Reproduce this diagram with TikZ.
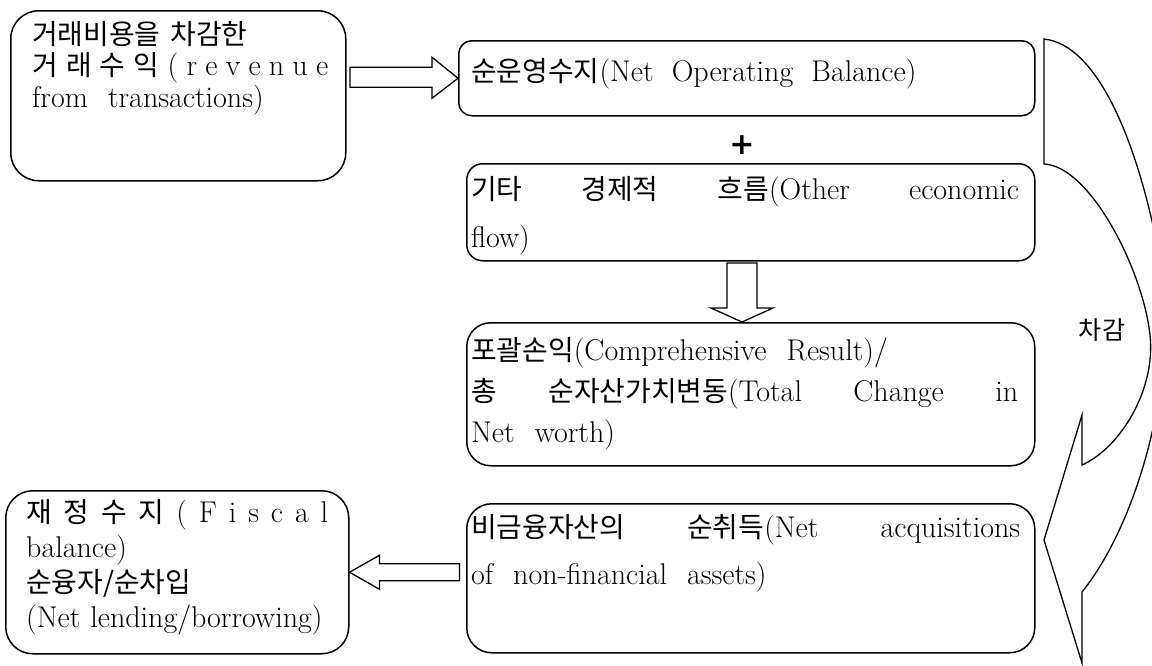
\documentclass[tikz,border=0pt]{standalone}
\usepackage{fontspec}
\newfontfamily\krfont{Noto Sans CJK KR}[Scale=0.93]
\newfontfamily\plusfont{DejaVu Sans}
\newcommand\kor[1]{{\krfont #1}}

\begin{document}
\begin{tikzpicture}[x=1pt, y=-1pt,
	box/.style={draw, line width=1.5pt, rounded corners=#1, anchor=north west, inner sep=0pt},
	txt/.style={anchor=base west, inner sep=0pt, align=left, font={\fontsize{30}{#1}\selectfont}},
	blk/.style={draw, line width=1.3pt, fill=white}]
	\useasboundingbox (0,0) rectangle (1152,665);

	% boxes
	\node[box=28pt, minimum width=335pt, minimum height=170pt]	(rev) at (10,10)	{};
	\node[box=13pt, minimum width=576pt, minimum height=75pt]	(nob) at (458,40)	{};
	\node[box=16pt, minimum width=568pt, minimum height=97pt]	(oef) at (466,163)	{};
	\node[box=24pt, minimum width=568pt, minimum height=143pt]	(cmp) at (466,322)	{};
	\node[box=25pt, minimum width=568pt, minimum height=149pt]	(nan) at (466,503)	{};
	\node[box=27pt, minimum width=343pt, minimum height=163pt]	(fis) at (5,490)	{};

	% texts
	\node[txt=31.5pt, text width=296pt] (revtxt) at (32,44)
		{\kor{거래비용을 차감한}\\
		 \kor{거}\hfill\kor{래}\hfill\kor{수}\hfill\kor{익}\hfill(\hfill r\hfill e\hfill v\hfill e\hfill n\hfill u\hfill e\\
		 \mbox{from \ transactions)}};
	\node[txt=30pt] (nobtxt) at (471,81)
		{\kor{순운영수지}(Net \ Operating \ Balance)};
	\node[txt=48pt, text width=548pt] (oeftxt) at (471,199)
		{\kor{기타}\hfill\kor{경제적}\hfill\kor{흐름}(Other\hfill economic\\
		 flow)};
	\node[txt=41pt, text width=547pt] (cmptxt) at (471,360)
		{\mbox{\kor{포괄손익}(Comprehensive \ Result)/}\\
		 \kor{총}\hfill\kor{순자산가치변동}(Total\hfill Change\hfill in\\
		 \mbox{Net \ worth)}};
	\node[txt=47pt, text width=549pt] (nantxt) at (471,537)
		{\kor{비금융자산의}\hfill\kor{순취득}(Net\hfill acquisitions\\
		 \mbox{of \ non-financial \ assets)}};
	\node[txt=35pt, text width=302pt] (fistxt) at (26,522)
		{\kor{재}\hfill\kor{정}\hfill\kor{수}\hfill\kor{지}\hfill(\hfill F\hfill i\hfill s\hfill c\hfill a\hfill l\\
		 balance)\\
		 \kor{순융자/순차입}\\
		 \mbox{(Net lending/borrowing)}};
	\node[font={\fontsize{30}{30}\selectfont\plusfont\bfseries}] (plus) at (742,145) {+};
	\node[font={\fontsize{27}{27}\selectfont\krfont}] (ded) at (1102,330) {차감};

	% block arrows
	\draw[blk] (nob.west) -- ++(-26,-21) -- ++(0,10) -- ++(-82,0) -- ++(0,20) -- ++(82,0) -- ++(0,11) -- cycle;
	\draw[blk] (plus |- cmp.north) -- ++(-31,-14) -- ++(16,0) -- ++(0,-45) -- ++(30,0) -- ++(0,45) -- ++(16,0) -- cycle;
	\draw[blk] (fis.east) -- ++(30,-17) -- ++(0,8.5) -- ++(80,0) -- ++(0,17) -- ++(-80,0) -- ++(0,8.5) -- cycle;

	% curved arrow on the right
	\begin{scope}
		\clip (0,0) rectangle (1152,665);
		\draw[line width=1.3pt, line join=miter]
			(1044,39) .. controls (1100,45) and (1140,150) .. (1160,260)
			.. controls (1180,370) and (1140,520) .. (1082,592)
			-- (1082,663) -- (1044,540) -- (1082,415) -- (1082,465)
			.. controls (1120,448) and (1156,390) .. (1150,335)
			.. controls (1143,270) and (1090,166) .. (1044,164)
			-- cycle;
	\end{scope}
\end{tikzpicture}
\end{document}
